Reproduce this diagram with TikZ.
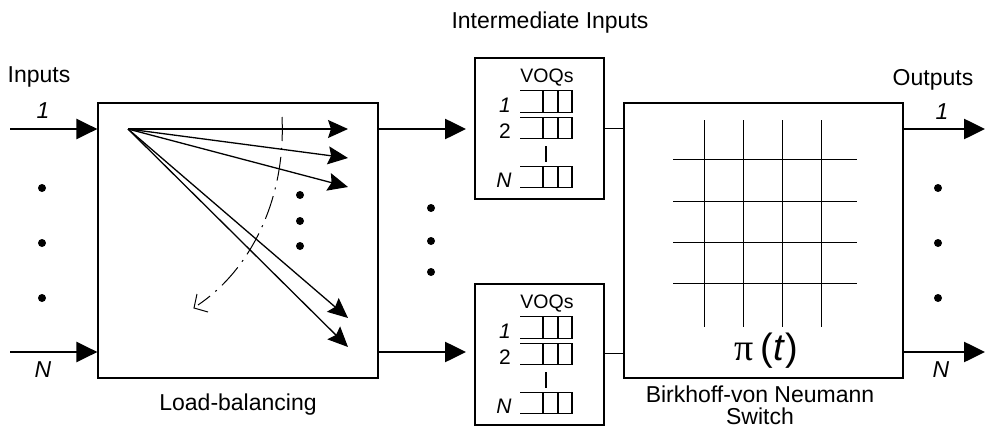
\documentclass[tikz,border=0pt]{standalone}
\usepackage{fontspec}
\setmainfont{Liberation Sans}
\newfontfamily\greekserif{Liberation Serif}
\usetikzlibrary{arrows.meta}
\tikzset{
  lbl/.style={font=\fontsize{23}{25}\selectfont, inner sep=0, anchor=base},
  ilbl/.style={font=\fontsize{23}{25}\selectfont\itshape, inner sep=0, anchor=base},
  qlbl/.style={font=\fontsize{21}{23}\selectfont\itshape, inner sep=0, anchor=base},
  qlblup/.style={font=\fontsize{21}{23}\selectfont, inner sep=0, anchor=base},
  voqtxt/.style={font=\fontsize{19.5}{21}\selectfont, inner sep=0, anchor=base},
  bigbox/.style={draw, line width=1.2pt, minimum width=280pt, minimum height=275pt, inner sep=0},
  voqbox/.style={draw, line width=2pt, minimum width=129pt, minimum height=141pt, inner sep=0},
  bigarrow/.style={line width=2.6pt, -{Triangle[length=21pt,width=20pt]}},
  fanarrow/.style={line width=1.3pt, -{Stealth[length=20pt,width=18pt,inset=3pt]}},
  qline/.style={line width=1.4pt},
  gridline/.style={line width=1pt},
  dotmark/.style={fill, circle, inner sep=0, minimum size=8pt},
  link/.style={line width=1pt},
  pics/queue/.style={code={
    \draw[qline] (-26,-10.75) -- (26,-10.75) -- (26,10.75) -- (-26,10.75);
    \draw[qline] (-3,-10.75) -- (-3,10.75) (12,-10.75) -- (12,10.75);
  }}
}
\begin{document}
\begin{tikzpicture}[x=1pt,y=-1pt]
\useasboundingbox (0,0) rectangle (986,428);

% main boxes
\node[bigbox] (lb) at (238,240.5) {};
\node[bigbox, minimum width=279pt] (bvn) at (763.5,240.5) {};
\node[voqbox] (voqA) at (539.5,128.5) {};
\node[voqbox] (voqB) at (539.5,354.5) {};

% texts
\node[lbl] (tii) at (550,29) {Intermediate Inputs};
\node[lbl] (tin) at (39,83) {Inputs};
\node[lbl] (tout) at (933,85) {Outputs};
\node[ilbl] (tin1) at (43,118) {1};
\node[ilbl] (tinN) at (43,377) {N};
\node[ilbl] (tout1) at (942,119) {1};
\node[ilbl] (toutN) at (941,377) {N};
\node[lbl] (tlb) at (238,410) {Load-balancing};
\node[lbl] (tbvn1) at (760,402) {Birkhoff-von Neumann};
\node[lbl] (tbvn2) at (760,424) {Switch};

% input / output arrows
\coordinate (i1) at (10,129);
\coordinate (iN) at (10,352);
\coordinate (o1) at (985,129);
\coordinate (oN) at (985,352);
\draw[bigarrow] (i1) -- (i1 -| lb.west);
\draw[bigarrow] (iN) -- (iN -| lb.west);
\draw[bigarrow, shorten >=8pt] (i1 -| lb.east) -- (i1 -| voqA.west);
\draw[bigarrow, shorten >=8pt] (iN -| lb.east) -- (iN -| voqB.west);
\draw[bigarrow] (o1 -| bvn.east) -- (o1);
\draw[bigarrow] (oN -| bvn.east) -- (oN);

% links VOQ -> switch
\draw[link] (voqA.east) -- (voqA.east -| bvn.west);
\draw[link] (voqB.east |- 0,353) -- (bvn.west |- 0,353);

% fan of arrows inside load balancer
\coordinate (src) at (128,129);
\coordinate (f1) at (348,129);
\coordinate (f2) at (348,158);
\coordinate (f3) at (348,187);
\coordinate (f4) at (348,318);
\coordinate (f5) at (348,347);
\foreach \f in {f1,f2,f3,f4,f5} \draw[fanarrow] (src) -- (\f);

% dash-dot sweep
\draw[line width=1pt, dash pattern=on 24pt off 7pt on 2pt off 7pt]
  (282,117) .. controls (286,200) and (250,270) .. (198,305);
\draw[line width=1pt] (197,294) -- (194,308) -- (208,312);

% dots
\node[dotmark] (dl1) at (42,188) {};
\node[dotmark] (dl2) at (42,243) {};
\node[dotmark] (dl3) at (42,298) {};
\node[dotmark] (dr1) at (938,188) {};
\node[dotmark] (dr2) at (938,243) {};
\node[dotmark] (dr3) at (938,298) {};
\node[dotmark] (dm1) at (431,208) {};
\node[dotmark] (dm2) at (431,241) {};
\node[dotmark] (dm3) at (431,272) {};
\node[dotmark] (di1) at (300,195) {};
\node[dotmark] (di2) at (300,221) {};
\node[dotmark] (di3) at (300,246) {};

% VOQ contents
\foreach \dy in {0,226}{
  \begin{scope}[shift={(0,\dy)}]
    \node[voqtxt] (voqs\dy) at (547,82) {VOQs};
    \pic at (546,101.5) {queue};
    \pic at (546,128) {queue};
    \pic at (546,177) {queue};
    \draw[line width=2.2pt] (546,146) -- (546,162);
    \node[qlbl] (qa\dy) at (505,112) {1};
    \node[qlblup] (qb\dy) at (505,138.5) {2};
    \node[qlbl] (qc\dy) at (504,187.5) {N};
  \end{scope}
}

% crossbar grid
\foreach \x in {704,743,782,821} \draw[gridline] (\x,120) -- (\x,327);
\foreach \y in {159,201,242,283} \draw[gridline] (673,\y) -- (857,\y);
\node[inner sep=0] (pit) at (766,351) {\fontsize{38}{42}\selectfont{\greekserif π}\hspace{7pt}(\textit{t})};
\end{tikzpicture}
\end{document}
